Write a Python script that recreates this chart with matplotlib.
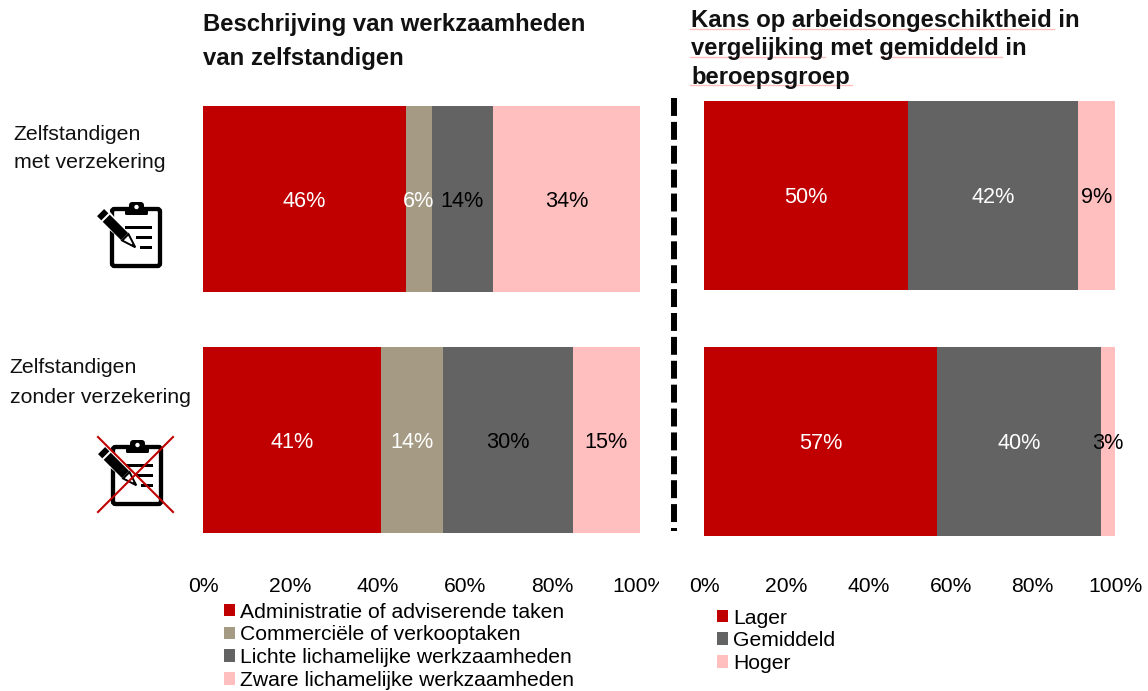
"""plot.py: stacked bars, self-employed with and without insurance."""
import matplotlib
matplotlib.use("Agg")
import matplotlib.pyplot as plt
from matplotlib.patches import FancyBboxPatch, Polygon, Rectangle, Circle
from matplotlib.transforms import Bbox

plt.rcParams['font.family'] = ['Liberation Sans', 'DejaVu Sans']

W, H = 1148, 691
RED, TAN, GREY, PINK = '#C00000', '#A59B85', '#636363', '#FFBFBF'

# data
work_labels = ['Administratie of adviserende taken', 'Commerciële of verkooptaken',
               'Lichte lichamelijke werkzaamheden', 'Zware lichamelijke werkzaamheden']
work_insured = [46.4, 5.9, 14.0, 33.7]
work_uninsured = [40.7, 14.2, 29.7, 15.4]
risk_labels = ['Lager', 'Gemiddeld', 'Hoger']
risk_insured = [49.6, 41.4, 9.0]
risk_uninsured = [56.7, 40.0, 3.3]
# labels as printed in the source (they do not always sum to 100)
work_text = [['46%', '6%', '14%', '34%'], ['41%', '14%', '30%', '15%']]
risk_text = [['50%', '42%', '9%'], ['57%', '40%', '3%']]
ticks = [0, 20, 40, 60, 80, 100]
tick_labels = ['0%', '20%', '40%', '60%', '80%', '100%']


def px_axes(fig, x0, y0, x1, y1):
    return fig.add_axes([x0 / W, 1 - y1 / H, (x1 - x0) / W, (y1 - y0) / H])


def stacked(ax, rows, labels, texts, colors, text_colors, height, ylim):
    left = [0, 0]
    for j, name in enumerate(labels):
        vals = [rows[0][j], rows[1][j]]
        bars = ax.barh([0, 1], vals, left=left, height=height, color=colors[j],
                       label=name, linewidth=0)
        for i, b in enumerate(bars):
            ax.text(b.get_x() + b.get_width() / 2, b.get_y() + b.get_height() / 2,
                    texts[i][j], ha='center', va='center_baseline', fontsize=15.6,
                    color=text_colors[j])
        left = [left[0] + vals[0], left[1] + vals[1]]
    ax.set_xlim(0, 100)
    ax.set_ylim(*ylim)
    ax.set_yticks([])
    ax.set_xticks(ticks)
    ax.set_xticklabels(tick_labels, fontsize=15.2)
    ax.tick_params(axis='x', length=0, pad=0)
    for s in ax.spines.values():
        s.set_visible(False)


def square_legend(fig, ax, x, y, spacing):
    leg = ax.legend(loc='upper left', bbox_to_anchor=(x / W, 1 - y / H),
                    bbox_transform=fig.transFigure, frameon=False, fontsize=15.2,
                    handlelength=0.54, handleheight=0.54, handletextpad=0.24,
                    labelspacing=spacing, borderpad=0, borderaxespad=0)
    return leg


def clipboard(ov, dx, dy):
    """Clipboard with pencil icon, in figure pixels."""
    ov.add_patch(FancyBboxPatch((112 + dx, 209 + dy), 48, 57,
                                boxstyle='round,pad=0,rounding_size=2.5',
                                fc='white', ec='black', lw=3.1))
    ov.add_patch(FancyBboxPatch((125 + dx, 207 + dy), 23, 8,
                                boxstyle='round,pad=0,rounding_size=1.5', fc='black', ec='none'))
    ov.add_patch(FancyBboxPatch((129 + dx, 202 + dy), 15, 9,
                                boxstyle='round,pad=0,rounding_size=3.5', fc='black', ec='none'))
    ov.add_patch(Circle((136.5 + dx, 207 + dy), 2.2, fc='white', ec='none'))
    for y0, x0 in [(225.5, 125), (236, 136), (246, 140)]:
        ov.add_patch(Rectangle((x0 + dx, y0 + dy), 152 - x0, 3.2, fc='black', ec='none'))

    # pencil, placed along its own axis: t runs to the tip, s across the body
    def pt(t, s):
        return (102 + dx + 0.707 * (t + s), 214 + dy + 0.707 * (t - s))

    ov.add_patch(Polygon([pt(-4, -8), pt(-4, 8), pt(49, 3), pt(49, -3)], fc='white', ec='none'))
    ov.add_patch(Polygon([pt(-2, -5), pt(-2, 5), pt(4, 5), pt(4, -5)], fc='black', ec='none'))
    ov.add_patch(Polygon([pt(6, -5), pt(6, 5), pt(32, 5), pt(32, -5)], fc='black', ec='none'))
    ov.add_patch(Polygon([pt(33, -4.5), pt(33, 4.5), pt(47, 0)], fc='white', ec='black', lw=1.4))
    ov.add_patch(Polygon([pt(43, -1.2), pt(43, 1.2), pt(47, 0)], fc='black', ec='black', lw=0.5))


fig = plt.figure(figsize=(W / 100, H / 100), dpi=100)

ax1 = px_axes(fig, 203, 78, 640, 577)
stacked(ax1, [work_insured, work_uninsured], work_labels, work_text,
        [RED, TAN, GREY, PINK], ['white', 'white', 'black', 'black'], 0.772, (1.5685, -0.502))
ax2 = px_axes(fig, 704, 78, 1115, 577)
stacked(ax2, [risk_insured, risk_uninsured], risk_labels, risk_text,
        [RED, GREY, PINK], ['white', 'white', 'black'], 0.768, (1.551, -0.4776))

# the left 100% label is cut off in the source
last = ax1.get_xticklabels()[-1]
last.set_clip_box(Bbox([[0, 0], [659, H]]))
last.set_clip_on(True)

square_legend(fig, ax1, 224, 602.5, 0.18)
square_legend(fig, ax2, 717, 608.5, 0.175)

# overlay in figure pixels for titles, row names, divider and icons
ov = fig.add_axes([0, 0, 1, 1], zorder=5)
ov.set_xlim(0, W)
ov.set_ylim(H, 0)
ov.axis('off')

for y, line in [(24, 'Beschrijving van werkzaamheden'), (58, 'van zelfstandigen')]:
    ov.text(203, y, line, fontsize=17.2, fontweight='bold', va='center', color='#111111')
for y, line in [(20, 'Kans op arbeidsongeschiktheid in'), (48, 'vergelijking met gemiddeld in'),
                (77, 'beroepsgroep')]:
    ov.text(691, y, line, fontsize=17.2, fontweight='bold', va='center', color='#111111')
for y, x0, x1 in [(29, 690, 749), (29, 792, 1054), (57, 690, 825), (57, 880, 1002), (85, 690, 852)]:
    ov.plot([x0, x1], [y, y], color=PINK, lw=1.0, zorder=1)

for x, y, line in [(13.5, 134, 'Zelfstandigen'), (13.5, 162, 'met verzekering'),
                   (9.5, 367, 'Zelfstandigen'), (9.5, 397, 'zonder verzekering')]:
    ov.text(x, y, line, fontsize=15.3, va='center', color='#111111')

ov.plot([674, 674], [98, 531], color='black', lw=4.3, linestyle=(0, (3, 1)), dash_capstyle='butt')

clipboard(ov, 0, 0)
clipboard(ov, 1, 238)
ov.plot([98, 173], [437, 512], color=RED, lw=1.5)
ov.plot([98, 173], [512, 437], color=RED, lw=1.5)

fig.savefig('out.png', dpi=100)
